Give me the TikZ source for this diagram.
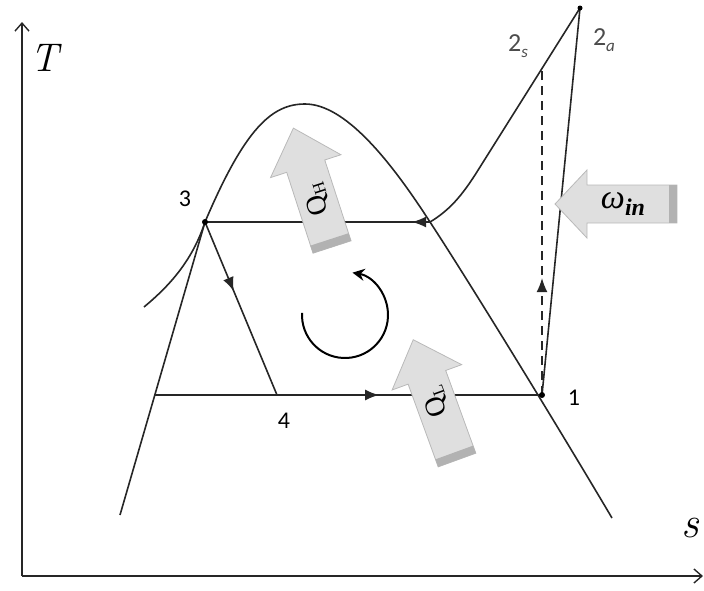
\documentclass[tikz,border=0pt]{standalone}
\usepackage{fontspec}
\newfontfamily\numfont{Carlito}
\newfontfamily\grkfont{Liberation Serif}
\usetikzlibrary{arrows.meta,decorations.markings,calc}
\tikzset{
  curve/.style={line width=1.6pt, black!85},
  axis/.style={line width=1.4pt, black!85, -{Straight Barb[length=8pt,width=14pt,line width=1.4pt]}},
  midarrow/.style={postaction={decorate}, decoration={markings,
      mark=at position #1 with {\arrow{Latex[length=14pt,width=11pt]}}}},
  ptlabel/.style={font=\numfont\fontsize{24}{24}\selectfont},
  statelabel/.style={font=\numfont\fontsize{26}{26}\selectfont, black!70},
  arrowfill/.style={fill=gray!25, draw=gray!55, line width=0.8pt},
  tailband/.style={fill=gray!60},
}
\newcommand\lowsub[2]{\raisebox{-#1}{\fontsize{17}{17}\selectfont #2}}
% #1 tail, #2 angle, #3 length, #4 head length, #5 shaft half width, #6 head half width, #7 text, #8 text rotation, #9 text position
\newcommand\bigarrow[9]{%
  \begin{scope}[shift={#1}, rotate=#2]
    \path[arrowfill] (0,-#5) -- (#3-#4,-#5) -- (#3-#4,-#6) -- (#3,0) -- (#3-#4,#6) -- (#3-#4,#5) -- (0,#5) -- cycle;
    \fill[tailband] (0,-#5) rectangle (8,#5);
    \node[rotate=#8, inner sep=0pt] at (#9,0) {#7};
  \end{scope}}
\begin{document}
\begin{tikzpicture}[x=1pt,y=-1pt]
\useasboundingbox (0,0) rectangle (704,590);
% axes
\coordinate (O) at (22,576);
\coordinate (Ytop) at (22,22);
\coordinate (Xend) at (703,576);
\draw[axis] (O) -- (Ytop);
\draw[axis] (O) -- (Xend);
\node (Tl) at (44,58) {\fontsize{40}{40}\selectfont\itshape T};
\node (sl) at (690,528) {\fontsize{44}{44}\selectfont\itshape s};
% state points
\coordinate (p1) at (542,395);
\coordinate (p2s) at (542,70);
\coordinate (p2a) at (580,8);
\coordinate (p3) at (205,222);
\coordinate (p4) at (277,395);
\coordinate (sv) at (430,222);
\coordinate (sl4) at (154,395);
\coordinate (bl) at (120,515);
\coordinate (br) at (612,518);
\coordinate (sc) at (144,307);
\coordinate (sh) at (475,175);
% saturation dome
\draw[curve] (bl) -- (p3);
\draw[curve] (p3) .. controls (245,128) and (272,104) .. (305,104)
   .. controls (345,104) and (390,160) .. (sv)
   .. controls (470,283) and (560,430) .. (br);
\draw[curve] (sc) .. controls (168,287) and (192,262) .. (p3);
% superheated line
\draw[curve] (sv) .. controls (450,210) and (462,195) .. (sh) -- (p2a);
% cycle
\draw[curve, midarrow=0.58] (sl4) -- (p1);
\draw[curve, midarrow=0.08] (sv) -- (p3);
\draw[curve, midarrow=0.40] (p3) -- (p4);
\draw[curve, dashed, dash pattern=on 9pt off 6pt, midarrow=0.36] (p1) -- (p2s);
\draw[curve] (p1) -- (p2a);
\fill (p1) circle (3pt);
\fill (p3) circle (3pt);
\fill (p2a) circle (2.5pt);
% labels
\node[ptlabel] (l3) at (185,199) {3};
\node[ptlabel] (l4) at (284,421) {4};
\node[ptlabel] (l1) at (574,398) {1};
\node[statelabel] (l2s) at (518,46) {2\lowsub{6pt}{\itshape s}};
\node[statelabel] (l2a) at (604,40) {2\lowsub{6pt}{\itshape a}};
% rotation arrow
\coordinate (cc) at (345,315);
\draw[line width=2pt, -{Stealth[length=12pt,width=12pt]}] ($(cc)+(183:43)$) arc[start angle=183, end angle=-80, radius=43];
% heat / work arrows
\bigarrow{(332,247)}{108}{125}{40}{20}{37}{\grkfont\fontsize{28}{28}\selectfont Q\raisebox{-5pt}{\fontsize{17}{17}\selectfont H}}{108}{50}
\bigarrow{(457,460)}{110}{128}{40}{20}{37}{\grkfont\fontsize{28}{28}\selectfont Q\raisebox{-5pt}{\fontsize{17}{17}\selectfont L}}{110}{62}
\bigarrow{(677,204)}{180}{122}{32}{19}{34}{\grkfont\itshape\fontsize{34}{34}\selectfont ω\raisebox{-7pt}{\fontsize{24}{24}\selectfont\bfseries in}}{0}{54}
\end{tikzpicture}
\end{document}
